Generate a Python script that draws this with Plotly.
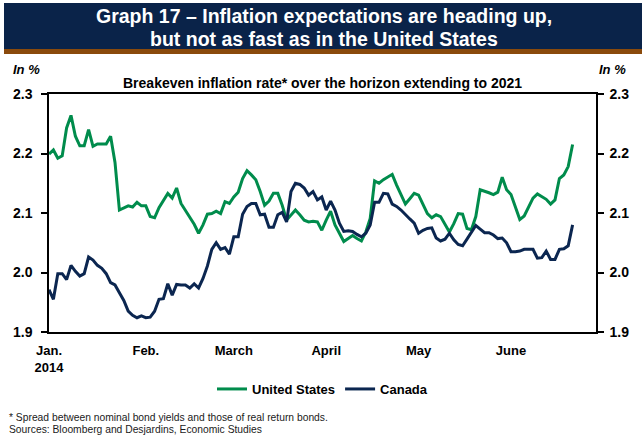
import plotly.graph_objects as go

# Breakeven inflation rate (%), one value per trading session starting 2 Jan 2014
sessions = list(range(120))

us = [
    2.199, 2.206, 2.192, 2.196, 2.243, 2.264, 2.229, 2.213, 2.213, 2.240,
    2.212, 2.216, 2.216, 2.216, 2.229, 2.185, 2.105, 2.108, 2.112, 2.110,
    2.118, 2.112, 2.112, 2.094, 2.092, 2.109, 2.120, 2.133, 2.125, 2.142,
    2.116, 2.104, 2.093, 2.081, 2.066, 2.080, 2.098, 2.099, 2.103, 2.099,
    2.119, 2.116, 2.127, 2.135, 2.158, 2.171, 2.164, 2.156, 2.136, 2.113,
    2.120, 2.133, 2.133, 2.113, 2.088, 2.097, 2.105, 2.097, 2.088, 2.085,
    2.086, 2.085, 2.071, 2.088, 2.103, 2.080, 2.066, 2.052, 2.057, 2.062,
    2.057, 2.053, 2.068, 2.091, 2.154, 2.150, 2.156, 2.160, 2.165, 2.147,
    2.130, 2.115, 2.124, 2.133, 2.130, 2.113, 2.099, 2.092, 2.097, 2.094,
    2.082, 2.068, 2.082, 2.099, 2.098, 2.074, 2.072, 2.094, 2.139, 2.137,
    2.134, 2.131, 2.135, 2.160, 2.139, 2.131, 2.111, 2.089, 2.095, 2.111,
    2.125, 2.132, 2.128, 2.123, 2.115, 2.122, 2.158, 2.164, 2.178, 2.215,
]

canada = [
    1.971, 1.955, 1.998, 1.998, 1.988, 2.012, 2.002, 1.994, 1.998, 2.026,
    2.021, 2.012, 2.007, 1.998, 1.983, 1.979, 1.966, 1.953, 1.935, 1.928,
    1.924, 1.927, 1.924, 1.925, 1.935, 1.955, 1.956, 1.981, 1.962, 1.980,
    1.979, 1.979, 1.974, 1.981, 1.974, 1.990, 2.011, 2.039, 2.050, 2.039,
    2.042, 2.031, 2.060, 2.060, 2.098, 2.111, 2.116, 2.116, 2.097, 2.098,
    2.076, 2.076, 2.097, 2.101, 2.085, 2.136, 2.150, 2.148, 2.142, 2.130,
    2.136, 2.122, 2.127, 2.105, 2.120, 2.105, 2.083, 2.069, 2.070, 2.069,
    2.064, 2.060, 2.066, 2.080, 2.118, 2.118, 2.133, 2.132, 2.115, 2.111,
    2.105, 2.097, 2.090, 2.083, 2.066, 2.071, 2.074, 2.075, 2.058, 2.053,
    2.056, 2.066, 2.055, 2.047, 2.045, 2.056, 2.067, 2.079, 2.073, 2.067,
    2.067, 2.063, 2.057, 2.058, 2.050, 2.035, 2.035, 2.036, 2.039, 2.039,
    2.039, 2.024, 2.025, 2.036, 2.022, 2.022, 2.039, 2.040, 2.045, 2.080,
]

# First trading session of each month and its label
month_sessions = [0, 22, 42, 63, 84, 105]
month_labels = ["Jan.<br>2014", "Feb.", "March", "April", "May", "June"]

y_ticks = [1.9, 2.0, 2.1, 2.2, 2.3]

GREEN = "#008C4C"
NAVY_LINE = "#0B2650"
NAVY_BAND = "#0A2349"
BROWN = "#8A4A0C"
FONT = "Liberation Sans, Arial, sans-serif"

W, H = 642, 435
L, R, T, B = 49, 46, 94, 103
PW, PH = W - L - R, H - T - B


def fx(px):
    return (px - L) / PW


def fy(py):
    return (H - B - py) / PH


fig = go.Figure()
fig.add_trace(go.Scatter(
    x=sessions, y=us, mode="lines", name="United States",
    line=dict(color=GREEN, width=3),
))
fig.add_trace(go.Scatter(
    x=sessions, y=canada, mode="lines", name="Canada",
    line=dict(color=NAVY_LINE, width=3),
))
# invisible companion trace so the right-hand axis is drawn
fig.add_trace(go.Scatter(
    x=sessions, y=canada, mode="lines", yaxis="y2", showlegend=False,
    hoverinfo="skip", line=dict(width=0), opacity=0,
))

axis_font = dict(family=FONT, size=14, color="#000000", weight="bold")

fig.update_layout(
    width=W, height=H,
    margin=dict(l=L, r=R, t=T, b=B),
    paper_bgcolor="white", plot_bgcolor="white",
    font=dict(family=FONT, color="#000000"),
    xaxis=dict(
        range=[0, (596 - 49) / 4.40],
        tickvals=month_sessions, ticktext=month_labels,
        ticks="", showgrid=False, zeroline=False,
        showline=True, linecolor="#000000", linewidth=1.5, mirror=True,
        tickfont=dict(family=FONT, size=13, color="#000000", weight="bold"),
        ticklabelstandoff=6,
    ),
    yaxis=dict(
        range=[1.9, 2.3], tickvals=y_ticks, tickformat=".1f",
        ticks="outside", ticklen=6, tickwidth=1.5, tickcolor="#000000",
        showline=True, linecolor="#000000", linewidth=1.5,
        showgrid=False, zeroline=False, tickfont=axis_font,
        ticklabelstandoff=6,
    ),
    yaxis2=dict(
        range=[1.9, 2.3], tickvals=y_ticks, tickformat=".1f",
        overlaying="y", side="right",
        ticks="outside", ticklen=6, tickwidth=1.5, tickcolor="#000000",
        showline=True, linecolor="#000000", linewidth=1.5,
        showgrid=False, zeroline=False, tickfont=axis_font,
        ticklabelstandoff=3,
    ),
    legend=dict(
        orientation="h", x=0.5, xanchor="center", y=fy(389), yanchor="middle",
        font=dict(family=FONT, size=13, color="#000000", weight="bold"),
        itemwidth=30, bgcolor="rgba(0,0,0,0)",
    ),
    showlegend=True,
)

# Title band with its brown underline
fig.add_shape(type="rect", xref="paper", yref="paper",
              x0=fx(4), x1=fx(642), y0=fy(49), y1=fy(3),
              fillcolor=NAVY_BAND, line=dict(width=0), layer="below")
fig.add_shape(type="rect", xref="paper", yref="paper",
              x0=fx(4), x1=fx(642), y0=fy(54), y1=fy(49),
              fillcolor=BROWN, line=dict(width=0), layer="below")

title_font = dict(family=FONT, size=19.5, color="white", weight="bold")
fig.add_annotation(text="Graph 17 – Inflation expectations are heading up,",
                   xref="paper", yref="paper", x=fx(324), y=fy(16),
                   showarrow=False, font=title_font, xanchor="center", yanchor="middle")
fig.add_annotation(text="but not as fast as in the United States",
                   xref="paper", yref="paper", x=fx(324), y=fy(39),
                   showarrow=False, font=title_font, xanchor="center", yanchor="middle")

unit_font = dict(family=FONT, size=13, color="#000000", weight="bold", style="italic")
fig.add_annotation(text="In %", xref="paper", yref="paper", x=fx(11), y=fy(70),
                   showarrow=False, font=unit_font, xanchor="left", yanchor="middle")
fig.add_annotation(text="In %", xref="paper", yref="paper", x=fx(628), y=fy(70),
                   showarrow=False, font=unit_font, xanchor="right", yanchor="middle")

fig.add_annotation(text="Breakeven inflation rate* over the horizon extending to 2021",
                   xref="paper", yref="paper", x=fx(322), y=fy(83.5),
                   showarrow=False, xanchor="center", yanchor="middle",
                   font=dict(family=FONT, size=14, color="#000000", weight="bold"))

note_font = dict(family=FONT, size=10.3, color="#1a1a1a")
fig.add_annotation(text="* Spread between nominal bond yields and those of real return bonds.",
                   xref="paper", yref="paper", x=fx(7), y=fy(417),
                   showarrow=False, xanchor="left", yanchor="middle", font=note_font)
fig.add_annotation(text="Sources: Bloomberg and Desjardins, Economic Studies",
                   xref="paper", yref="paper", x=fx(7), y=fy(429),
                   showarrow=False, xanchor="left", yanchor="middle", font=note_font)

fig.write_html("out.html")
